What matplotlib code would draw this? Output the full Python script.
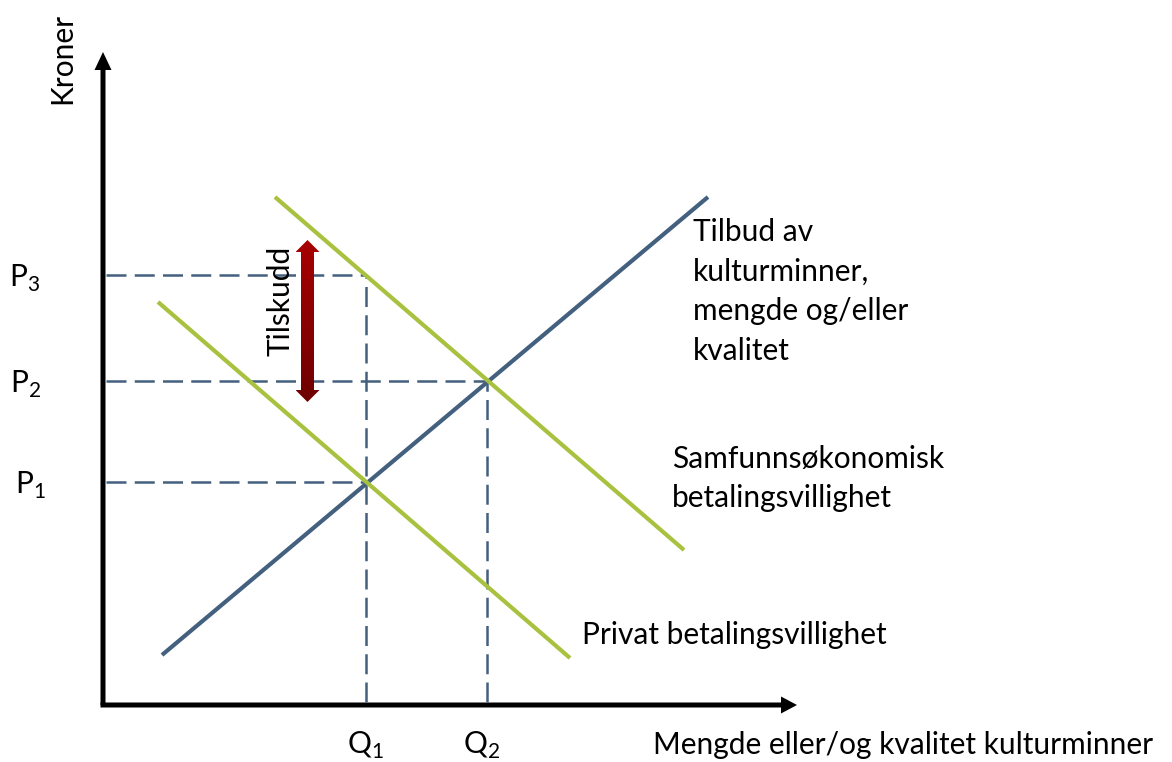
import matplotlib
matplotlib.use("Agg")
import matplotlib.pyplot as plt
import numpy as np
from matplotlib.patches import FancyArrow, Polygon

plt.rcParams['font.family'] = ['Lato', 'DejaVu Sans']
plt.rcParams['mathtext.fontset'] = 'custom'
plt.rcParams['mathtext.rm'] = 'Lato'

# ---- data (economic units; origin at the axes corner) ----
supply_x = [59, 605]
supply_y = [50, 508]
social_x = [172, 581]
social_y = [508, 155]
private_x = [55, 467]
private_y = [403, 47]

q_values = [263, 384]
q_labels = ['Q$_1$', 'Q$_2$']
p_values = [223, 324, 430]
p_labels = ['P$_1$', 'P$_2$', 'P$_3$']
p_dash_end = [263, 384, 263]

subsidy_x = 204.5
subsidy_range = [303, 465]

x_axis_len = 694
y_axis_len = 653

label_supply = "Tilbud av\nkulturminner,\nmengde og/eller\nkvalitet"
label_social = "Samfunnsøkonomisk\nbetalingsvillighet"
label_private = "Privat betalingsvillighet"
label_x = "Mengde eller/og kvalitet kulturminner"
label_y = "Kroner"
label_subsidy = "Tilskudd"

BLUE = '#44607F'
GREEN = '#A8C13F'
DASH = '#44607F'

fig = plt.figure(figsize=(11.72, 7.62), dpi=100)
ax = fig.add_axes([0, 0, 1, 1])
ax.set_xlim(-103, 1069)
ax.set_ylim(-57, 705)
ax.axis('off')

FS = 21.5

# axes with arrows
ax.add_patch(FancyArrow(0, 0, 0, y_axis_len, width=5, head_width=17, head_length=18,
                        length_includes_head=True, color='black', lw=0))
ax.add_patch(FancyArrow(-2.5, 0, x_axis_len + 2.5, 0, width=5, head_width=17, head_length=16,
                        length_includes_head=True, color='black', lw=0))

# dashed guides
dash_style = dict(color=DASH, lw=1.8, dashes=(8, 3.3))
for p, xe in zip(p_values, p_dash_end):
    ax.plot([3, xe], [p, p], **dash_style)
ax.plot([q_values[0], q_values[0]], [3, p_values[2]], **dash_style)
ax.plot([q_values[1], q_values[1]], [3, p_values[1]], **dash_style)

# curves
ax.plot(supply_x, supply_y, color=BLUE, lw=3.0, solid_capstyle='butt')
ax.plot(social_x, social_y, color=GREEN, lw=3.0, solid_capstyle='butt')
ax.plot(private_x, private_y, color=GREEN, lw=3.0, solid_capstyle='butt')

# subsidy arrow (double headed, with vertical gradient)
lo, hi = subsidy_range
sw, hw, hl = 6.5, 12, 12
cx = subsidy_x
verts = [(cx, hi), (cx + hw, hi - hl), (cx + sw, hi - hl), (cx + sw, lo + hl),
         (cx + hw, lo + hl), (cx, lo), (cx - hw, lo + hl), (cx - sw, lo + hl),
         (cx - sw, hi - hl), (cx - hw, hi - hl)]
poly = Polygon(verts, closed=True, facecolor='none', edgecolor='none')
ax.add_patch(poly)
grad = np.linspace(0, 1, 256).reshape(-1, 1)
from matplotlib.colors import LinearSegmentedColormap
cmap = LinearSegmentedColormap.from_list('red', ['#6E0000', '#A80000'])
im = ax.imshow(grad, cmap=cmap, origin='lower', aspect='auto',
               extent=[cx - hw, cx + hw, lo, hi], zorder=3)
im.set_clip_path(poly)
ax.set_xlim(-103, 1069)
ax.set_ylim(-57, 705)

ax.text(177, 404, label_subsidy, rotation=90, ha='center', va='center', fontsize=FS)

# labels
p_x_left = [-88, -93, -94]
for p, lab, xl in zip(p_values, p_labels, p_x_left):
    ax.text(xl, p - 3, lab, ha='left', va='center', fontsize=FS)
q_x_left = [244, 360]
for xl, lab in zip(q_x_left, q_labels):
    ax.text(xl, -40, lab, ha='left', va='center', fontsize=FS)

ax.text(590, 487, label_supply, ha='left', va='top', fontsize=FS, linespacing=1.5)
ax.text(569, 260, label_social, ha='left', va='top', fontsize=FS, linespacing=1.5)
ax.text(479, 70, label_private, ha='left', va='center', fontsize=FS)
ax.text(550, -40, label_x, ha='left', va='center', fontsize=FS)
ax.text(-41, 647, label_y, rotation=90, ha='center', va='center', fontsize=FS)

fig.savefig('out.png', dpi=100)
